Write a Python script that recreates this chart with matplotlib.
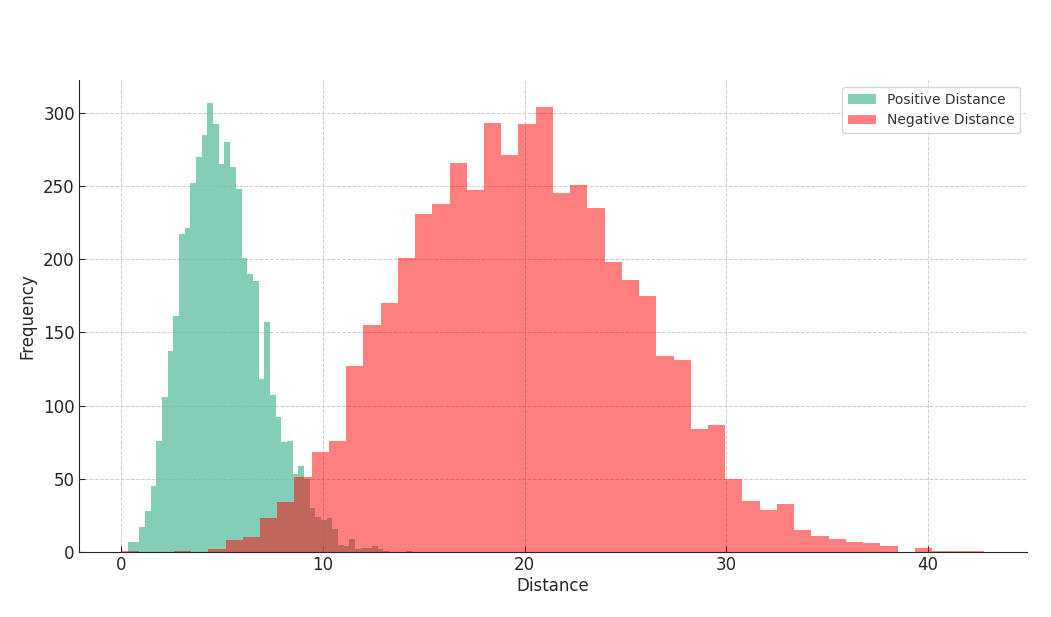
import numpy as np
import matplotlib
matplotlib.use("Agg")
import matplotlib.pyplot as plt

# distance range covered by each histogram (50 bins each)
pos_range = (0.33, 14.4)
neg_range = (0.035, 42.78)

# counts per bin
pos_counts = [7, 7, 17, 28, 45, 76, 106, 137, 161, 217,
              221, 252, 270, 285, 307, 292, 265, 280, 263, 248,
              201, 190, 185, 118, 157, 107, 92, 75, 76, 53,
              59, 50, 30, 24, 22, 23, 16, 5, 4, 9,
              2, 3, 3, 4, 2, 1, 0, 0, 0, 1]
neg_counts = [1, 0, 0, 1, 0, 2, 8, 10, 23, 34,
              51, 68, 76, 127, 155, 170, 201, 231, 238, 266,
              247, 293, 271, 292, 304, 245, 251, 235, 198, 186,
              175, 134, 131, 84, 87, 50, 35, 29, 33, 15,
              11, 9, 7, 6, 4, 0, 3, 1, 1, 1]

pos_edges = np.linspace(pos_range[0], pos_range[1], len(pos_counts) + 1)
neg_edges = np.linspace(neg_range[0], neg_range[1], len(neg_counts) + 1)

fig = plt.figure(figsize=(10.51, 6.17), dpi=100)
ax = fig.add_axes([0.0752, 0.1053, 0.9018, 0.765])

ax.hist(pos_edges[:-1], bins=pos_edges, weights=pos_counts,
        color="#66c2a5", alpha=0.8, label="Positive Distance")
ax.hist(neg_edges[:-1], bins=neg_edges, weights=neg_counts,
        color="red", alpha=0.5, label="Negative Distance")

ax.set_xlabel("Distance", fontsize=12, color="#262626", labelpad=2)
ax.set_ylabel("Frequency", fontsize=12, color="#262626", labelpad=5)
ax.tick_params(labelsize=12, colors="#262626", direction="in", length=4, pad=3)
ax.set_xticks([0, 10, 20, 30, 40])
ax.set_yticks(range(0, 301, 50))

# dashed light grid, no top/right frame
ax.grid(True, linestyle="--", color="#cccccc", linewidth=0.7)
ax.set_axisbelow(True)
ax.spines["top"].set_visible(False)
ax.spines["right"].set_visible(False)
ax.spines["left"].set_color("#262626")
ax.spines["bottom"].set_color("#262626")

leg = ax.legend(loc="upper right", fontsize=10)
leg.get_frame().set_edgecolor("#cccccc")
for t in leg.get_texts():
    t.set_color("#333333")

fig.savefig("out.png", dpi=100)
